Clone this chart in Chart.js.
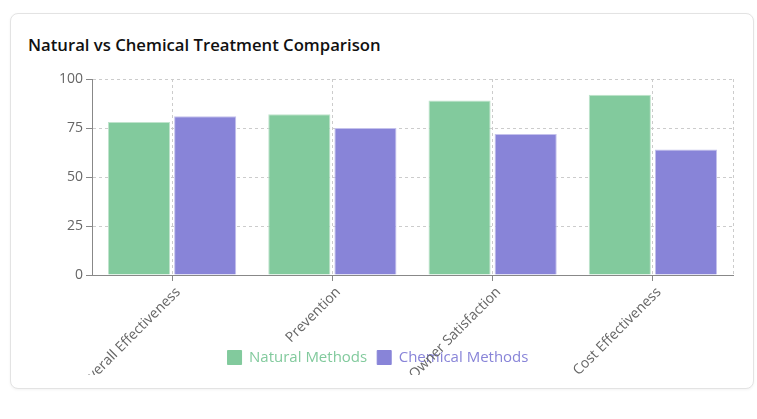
<!DOCTYPE html>
<html>
<head>
<meta charset="utf-8">
<script src="https://cdn.jsdelivr.net/npm/chart.js@4.4.1/dist/chart.umd.min.js"></script>
<style>
html,body{margin:0;padding:0;background:#fff;width:757px;height:419px;overflow:hidden;font-family:"Open Sans",sans-serif;}
.card{position:absolute;left:10px;top:13px;width:742px;height:374px;border:1px solid #e3e3e3;border-radius:8px;background:#fff;box-shadow:0 1px 3px rgba(0,0,0,0.05);}
.title{position:absolute;left:28px;top:33px;font-size:16.7px;font-weight:600;color:#111;margin:0;line-height:24px;white-space:nowrap;}
.clip{position:absolute;left:10px;top:62px;width:736px;height:313px;overflow:hidden;}
canvas{display:block;}
</style>
</head>
<body>
<div class="card"></div>
<div class="title">Natural vs Chemical Treatment Comparison</div>
<div class="clip"><canvas id="c" width="736" height="313"></canvas></div>
<script>
const categories = ['Overall Effectiveness', 'Prevention', 'Owner Satisfaction', 'Cost Effectiveness'];
const naturalValues = [78, 82, 89, 92];
const chemicalValues = [81, 75, 72, 64];
const yTicks = [0, 25, 50, 75, 100];
const seriesNames = ['Natural Methods', 'Chemical Methods'];

const FONT = '"Open Sans", sans-serif';
const GREEN = '#82ca9d';
const PURPLE = '#8884d8';

const edgePlugin = {
  id: 'edgeLines',
  beforeDraw(chart) {
    // let the rotated x labels run past the axis box (they are clipped by the container instead)
    chart.scales.x._computeLabelArea = () => undefined;
  },
  beforeDatasetsDraw(chart) {
    const {ctx, chartArea: a} = chart;
    ctx.save();
    ctx.strokeStyle = '#ccc';
    ctx.lineWidth = 1;
    ctx.setLineDash([3, 3]);
    ctx.beginPath();
    ctx.moveTo(a.right + 0.5, a.top);
    ctx.lineTo(a.right + 0.5, a.bottom);
    ctx.stroke();
    ctx.restore();
  }
};

new Chart(document.getElementById('c'), {
  type: 'bar',
  data: {
    labels: categories,
    datasets: [
      {label: seriesNames[0], data: naturalValues, backgroundColor: GREEN, borderColor: '#bfe3cc', borderWidth: 1},
      {label: seriesNames[1], data: chemicalValues, backgroundColor: PURPLE, borderColor: '#c4c1ec', borderWidth: 1}
    ]
  },
  options: {
    responsive: false,
    animation: false,
    events: [],
    datasets: {bar: {barPercentage: 0.94, categoryPercentage: 0.825}},
    layout: {padding: {left: 13, right: 13, top: 17, bottom: 0}},
    plugins: {
      title: {display: false},
      tooltip: {enabled: false},
      legend: {
        position: 'bottom',
        labels: {
          boxWidth: 14, boxHeight: 14, padding: 10,
          font: {family: FONT, size: 15},
          generateLabels(chart) {
            const items = Chart.defaults.plugins.legend.labels.generateLabels(chart);
            items.forEach((it, i) => { it.fontColor = chart.data.datasets[i].backgroundColor; it.strokeStyle = chart.data.datasets[i].backgroundColor; });
            return items;
          }
        }
      }
    },
    scales: {
      x: {
        grid: {offset: false, color: '#ccc', drawTicks: true, tickLength: 6, tickColor: '#888', tickWidth: 1},
        border: {color: '#888', width: 1, dash: [3, 3]},
        ticks: {color: '#666', font: {family: FONT, size: 14}, maxRotation: 45, minRotation: 45, autoSkip: false, padding: 3, labelOffset: 6},
        afterFit(s) { s.height = 65; }
      },
      y: {
        min: 0, max: 100,
        afterBuildTicks(s) { s.ticks = yTicks.map(v => ({value: v})); },
        grid: {color: '#ccc', drawTicks: true, tickLength: 6, tickColor: '#888', tickWidth: 1},
        border: {color: '#888', width: 1, dash: [3, 3]},
        ticks: {color: '#666', font: {family: FONT, size: 14}, padding: 3},
        afterFit(s) { s.width = 69; }
      }
    }
  },
  plugins: [edgePlugin]
});
</script>
</body>
</html>
